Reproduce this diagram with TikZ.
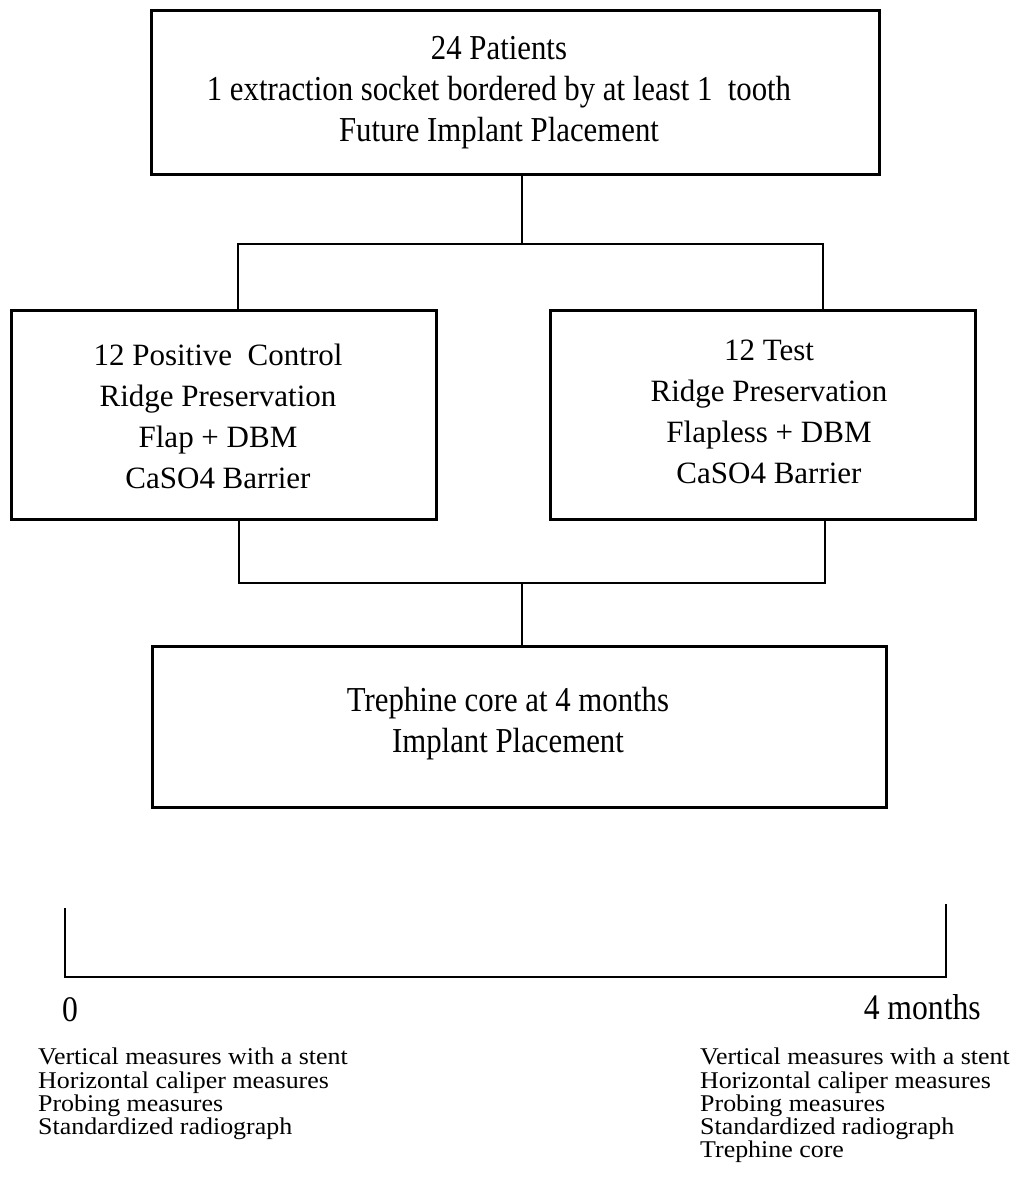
\documentclass[tikz,border=0pt]{standalone}
\usepackage{fontspec}
\setmainfont{Liberation Serif}
\newfontfamily\condfont[FakeStretch=0.88]{Liberation Serif}
\newfontfamily\widefont[FakeStretch=1.08]{Liberation Serif}
\begin{document}
\begin{tikzpicture}[x=1pt,y=-1pt,
  box/.style={draw,line width=3.2pt,inner sep=0pt,anchor=north west},
  txt/.style={inner sep=0pt,align=center,font=\fontsize{31}{41}\selectfont},
  ctxt/.style={txt,font=\condfont\fontsize{35}{41}\selectfont},
  conn/.style={line width=2.8pt,line cap=rect},
  lbl/.style={inner sep=0pt,font=\condfont\fontsize{36}{40}\selectfont},
  lst/.style={inner sep=0pt,align=left,anchor=north west,font=\widefont\fontsize{24}{23.2}\selectfont}]
\useasboundingbox (0,0) rectangle (1018,1177);
% boxes
\node[box,minimum width=728pt,minimum height=164pt] (top) at (150,9) {};
\node[ctxt] (toptext) at (499,93)
  {24 Patients\\1 extraction socket bordered by at least 1\ \ tooth\\Future Implant Placement};
\node[box,minimum width=425pt,minimum height=209pt] (left) at (10,309) {};
\node[txt] (lefttext) at (218,416)
  {12 Positive\ \ Control\\Ridge Preservation\\Flap + DBM\\CaSO4 Barrier};
\node[box,minimum width=425pt,minimum height=209pt] (right) at (549,309) {};
\node[txt] (righttext) at (769,412)
  {12 Test\\Ridge Preservation\\Flapless + DBM\\CaSO4 Barrier};
\node[box,minimum width=734pt,minimum height=161pt] (bot) at (151,645) {};
\node[ctxt] (bottext) at (508,724)
  {Trephine core at 4 months\\Implant Placement};
% junctions
\coordinate (j1) at (522,244);
\coordinate (jl) at (238,244);
\coordinate (jr) at (823,244);
\coordinate (k1) at (522,583);
\coordinate (kl) at (239,583);
\coordinate (kr) at (825,583);
\draw[conn] (top.south -| j1) -- (j1);
\draw[conn] (left.north -| jl) -- (jl) -- (jr) -- (right.north -| jr);
\draw[conn] (left.south -| kl) -- (kl) -- (kr) -- (right.south -| kr);
\draw[conn] (k1) -- (bot.north -| k1);
% timeline
\coordinate (t0a) at (65,909);
\coordinate (t0b) at (65,977);
\coordinate (t4a) at (946,905);
\coordinate (t4b) at (946,977);
\draw[conn] (t0a) -- (t0b) -- (t4b) -- (t4a);
\node[lbl,anchor=base west] (zero) at (62,1021) {0};
\node[lbl,anchor=base east] (four) at (981,1019) {4 months};
\node[lst] (l0) at (38,1048) {Vertical measures with a stent\\Horizontal caliper measures\\Probing measures\\Standardized radiograph};
\node[lst] (l4) at (700,1048) {Vertical measures with a stent\\Horizontal caliper measures\\Probing measures\\Standardized radiograph\\Trephine core};
\end{tikzpicture}
\end{document}
